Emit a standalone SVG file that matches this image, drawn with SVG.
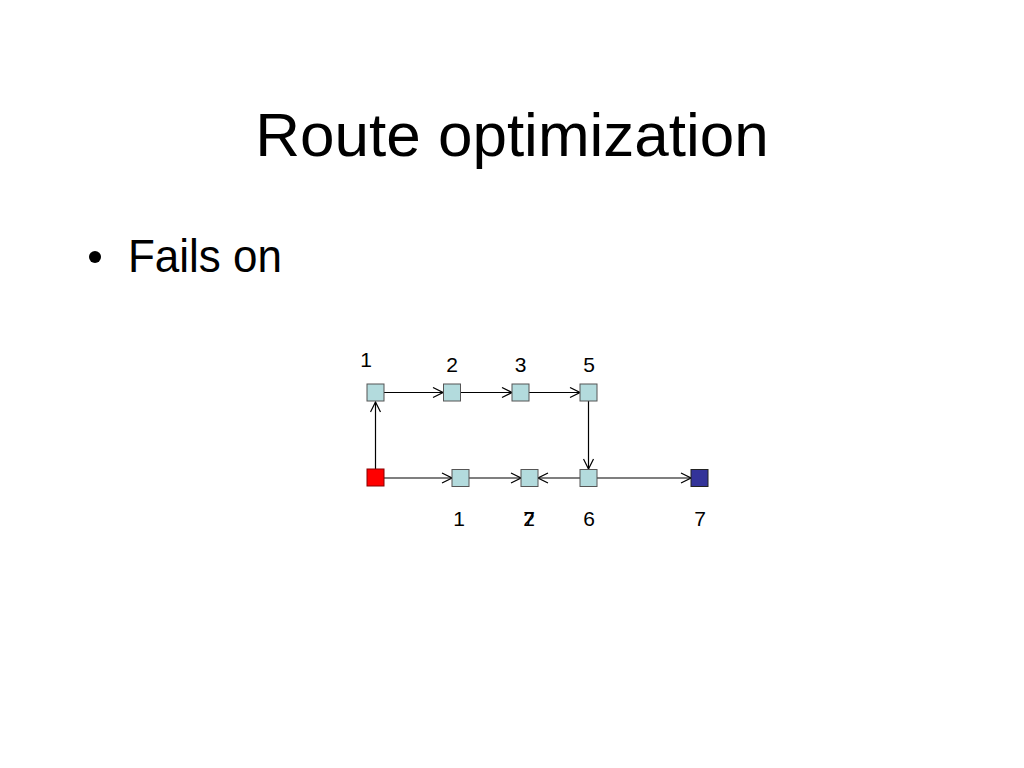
<svg xmlns="http://www.w3.org/2000/svg" width="1024" height="768" viewBox="0 0 1024 768">
<defs>
<marker id="arr" markerWidth="12" markerHeight="12" refX="11" refY="6" orient="auto" markerUnits="userSpaceOnUse">
<path d="M1,1 L11,6 L1,11" fill="none" stroke="#000" stroke-width="1.2"/>
</marker>
<style>
.t{font-family:"Liberation Sans",Arial,sans-serif;fill:#000}
.lbl{font-family:"Liberation Sans",Arial,sans-serif;font-size:21px;fill:#000;text-anchor:middle}
.n{fill:#b3dbdd;stroke:#555;stroke-width:1}
.e{stroke:#000;stroke-width:1.2;fill:none;marker-end:url(#arr)}
</style>
</defs>
<rect width="1024" height="768" fill="#fff"/>
<text class="t" x="512" y="156" font-size="62" text-anchor="middle">Route optimization</text>
<circle cx="95" cy="257" r="6" fill="#000"/>
<text class="t" x="128" y="272" font-size="46" textLength="154" lengthAdjust="spacingAndGlyphs">Fails on</text>
<g id="connectors">
<line class="e" x1="375.5" y1="469" x2="375.5" y2="402"/>
<line class="e" x1="384" y1="392.5" x2="443" y2="392.5"/>
<line class="e" x1="461" y1="392.5" x2="512" y2="392.5"/>
<line class="e" x1="529" y1="392.5" x2="580" y2="392.5"/>
<line class="e" x1="588.5" y1="401" x2="588.5" y2="469"/>
<line class="e" x1="384" y1="478" x2="452" y2="478"/>
<line class="e" x1="469" y1="478" x2="521" y2="478"/>
<line class="e" x1="580" y1="478" x2="538" y2="478"/>
<line class="e" x1="597" y1="478" x2="691" y2="478"/>
</g>
<g id="nodeA"><rect class="n" x="367" y="384" width="17" height="17"/><text class="lbl" x="366" y="367">1</text></g>
<g id="nodeB"><rect class="n" x="443.5" y="384" width="17" height="17"/><text class="lbl" x="452" y="372">2</text></g>
<g id="nodeC"><rect class="n" x="512" y="384" width="17" height="17"/><text class="lbl" x="520.5" y="372">3</text></g>
<g id="nodeD"><rect class="n" x="580" y="384" width="17" height="17"/><text class="lbl" x="589" y="372">5</text></g>
<g id="start"><rect x="367" y="469" width="17" height="17" fill="#ff0000" stroke="#800" stroke-width="1"/></g>
<g id="nodeE"><rect class="n" x="452" y="469.5" width="17" height="17"/><text class="lbl" x="459" y="526">1</text></g>
<g id="nodeF"><rect class="n" x="521" y="469.5" width="17" height="17"/><text class="lbl" x="529" y="526">2</text><text class="lbl" x="529" y="526">7</text></g>
<g id="nodeG"><rect class="n" x="580" y="469.5" width="17" height="17"/><text class="lbl" x="589" y="526">6</text></g>
<g id="goal"><rect x="691" y="469.5" width="17" height="17" fill="#333399" stroke="#222" stroke-width="1"/><text class="lbl" x="700" y="526">7</text></g>
</svg>
